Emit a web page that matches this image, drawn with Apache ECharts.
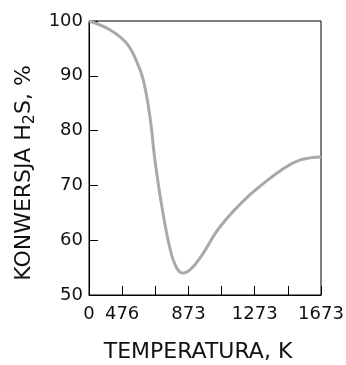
<!DOCTYPE html>
<html>
<head>
<meta charset="utf-8">
<script src="https://cdn.jsdelivr.net/npm/echarts@6/dist/echarts.min.js"></script>
<style>
  html, body { margin: 0; padding: 0; background: #fff; }
  #chart { width: 346px; height: 365px; }
</style>
</head>
<body>
<div id="chart"></div>
<script>
// x positions in tick units (the axis has 7 equal steps, labelled unevenly)
const xPos = [0, 0.63, 1.14, 1.44, 1.64, 1.84, 1.99, 2.2, 2.45, 2.65, 2.85, 3.1, 3.4, 3.96, 4.86, 5.87, 6.4, 7.0];
const conversion = [100, 98.4, 95.9, 92.6, 89.2, 82.5, 74.6, 66.1, 58.3, 54.9, 54.0, 54.9, 57.2, 62.5, 68.3, 73.1, 74.7, 75.2];
const xTickLabels = ['0', '476', '', '873', '', '1273', '', '1673'];
const yTicks = [50, 60, 70, 80, 90, 100];

const FONT = 'DejaVu Sans';
const chart = echarts.init(document.getElementById('chart'));

chart.setOption({
  animation: false,
  grid: {
    left: 89, right: 25, top: 21, bottom: 70,
    outerBoundsMode: 'none',
    show: true,
    borderColor: '#000',
    borderWidth: 1
  },
  xAxis: {
    type: 'value',
    min: 0,
    max: 7,
    interval: 1,
    name: 'TEMPERATURA, K',
    nameLocation: 'middle',
    nameGap: 46,
    nameTextStyle: { color: '#111', fontFamily: FONT, fontSize: 22, padding: [0, 14, 0, 0] },
    axisLine: { lineStyle: { color: '#000', width: 1 } },
    axisTick: { inside: true, length: 9, lineStyle: { color: '#000' } },
    axisLabel: {
      color: '#111', fontFamily: FONT, fontSize: 18, margin: 10,
      formatter: v => xTickLabels[Math.round(v)] || ''
    },
    splitLine: { show: false }
  },
  yAxis: {
    type: 'value',
    min: yTicks[0],
    max: yTicks[yTicks.length - 1],
    interval: 10,
    name: 'KONWERSJA H{s|2}S, %',
    nameLocation: 'middle',
    nameGap: 50,
    nameTextStyle: {
      color: '#111', fontFamily: FONT, fontSize: 22, padding: [0, 30, 0, 0],
      rich: {
        s: { color: '#111', fontFamily: FONT, fontSize: 16, padding: [10, 0, 0, 0] }
      }
    },
    axisLine: { lineStyle: { color: '#000', width: 1 } },
    axisTick: { inside: true, length: 9, lineStyle: { color: '#000' } },
    axisLabel: { color: '#111', fontFamily: FONT, fontSize: 18, margin: 6 },
    splitLine: { show: false }
  },
  series: [{
    type: 'line',
    data: xPos.map((x, i) => [x, conversion[i]]),
    smooth: 0.4,
    showSymbol: false,
    lineStyle: { color: '#a9a9a9', width: 3 }
  }]
});
</script>
</body>
</html>
